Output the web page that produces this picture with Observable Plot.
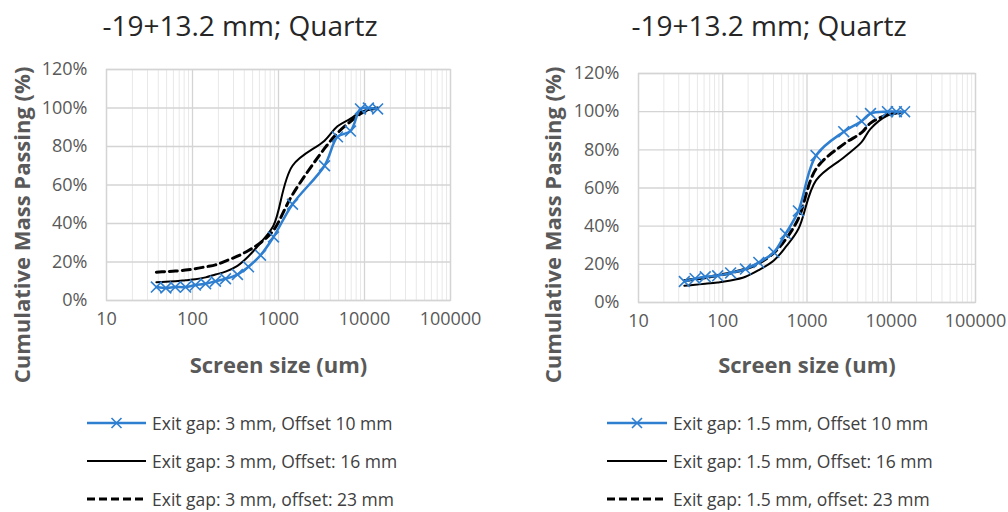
<!DOCTYPE html>
<html>
<head>
<meta charset="utf-8">
<script src="https://cdn.jsdelivr.net/npm/d3@7"></script>
<script src="https://cdn.jsdelivr.net/npm/@observablehq/plot@0.6"></script>
<style>
  body { margin: 0; background: #fff; }
  #root { position: relative; width: 1008px; height: 512px; overflow: hidden; font-family: "Open Sans", sans-serif; }
  .title { position: absolute; top: 6px; font-size: 28px; color: #262626; white-space: nowrap; transform: translateX(-50%); }
  .panel { position: absolute; top: 50px; }
  .panel svg text { fill: #595959; }
  .legend { position: absolute; top: 404px; font-size: 17.5px; color: #404040; }
  .legend .row { display: flex; align-items: center; height: 38px; white-space: nowrap; }
  .legend svg { margin-right: 6px; }
</style>
</head>
<body>
<div id="root"></div>
<script>
// Screen sizes (um) and cumulative mass passing (%) for -19+13.2 mm quartz feed.
// Panel A: exit gap 3 mm.
const sizesA = [38, 49, 63, 83, 108, 142, 185, 242, 333, 448, 618, 875, 1455, 3430, 4850, 6870, 8980, 11100, 14200];
const gap3Offset10 = [7, 6.5, 7, 7, 8, 8.7, 10, 11.3, 13.5, 17.5, 23.5, 33, 50, 70, 85, 88, 99.5, 100, 99.5];
const gap3Offset16 = [9.5, 9.8, 10, 10.5, 11, 12, 13.5, 15, 18, 23, 30, 39, 70, 83, 90.5, 94.5, 98, 99, 100];
const gap3Offset23 = [14.7, 15, 15.3, 15.8, 16.5, 17.5, 18.5, 20.5, 23, 26, 30, 36.5, 55, 79, 87, 93, 97, 99, 100];

// Panel B: exit gap 1.5 mm.
const sizesB = [35, 47, 62, 87, 124, 186, 268, 404, 556, 790, 1280, 2730, 4440, 5670, 9020, 11500, 14400];
const gap15Offset10 = [11, 12.5, 13.5, 14, 15.5, 17.5, 21, 26.3, 36, 48, 77, 89.5, 95, 99, 100, 100, 100];
const gap15Offset16 = [8.8, 9.3, 9.8, 10.5, 11.5, 13.5, 17, 22, 29, 38.5, 64, 76, 84, 91, 98, 99, 100];
const gap15Offset23 = [11.4, 12.3, 13, 14.2, 15.5, 17.5, 20.5, 26, 33, 44, 70, 83, 89, 94, 98.5, 99.5, 100];

// Axis ticks and text
const xTicks = [10, 100, 1000, 10000, 100000];
const yTicks = [0, 20, 40, 60, 80, 100, 120];
const panelTitle = "-19+13.2 mm; Quartz";
const xTitle = "Screen size (um)";
const yTitle = "Cumulative Mass Passing (%)";
const legendA = ["Exit gap: 3 mm, Offset 10 mm", "Exit gap: 3 mm, Offset: 16 mm", "Exit gap: 3 mm, offset: 23 mm"];
const legendB = ["Exit gap: 1.5 mm, Offset 10 mm", "Exit gap: 1.5 mm, Offset: 16 mm", "Exit gap: 1.5 mm, offset: 23 mm"];

const BLUE = "#2f7fd1";
const minorTicks = d3.scaleLog().domain([10, 100000]).ticks().filter(v => !xTicks.includes(v));

function rows(sizes, values) {
  return sizes.map((s, i) => ({size: s, pct: values[i]}));
}

function chart({sizes, s10, s16, s23, width, marginLeft, marginRight, marginTop, marginBottom, yTitleDx, yTitleDy, xTitleDy}) {
  const d10 = rows(sizes, s10), d16 = rows(sizes, s16), d23 = rows(sizes, s23);
  const titleStyle = {fontSize: 22, fontWeight: "bold", fill: "#595959", textAnchor: "middle"};
  return Plot.plot({
    width, height: 345,
    marginLeft, marginRight, marginTop, marginBottom,
    style: {fontFamily: "Open Sans, sans-serif", fontSize: "18px", background: "transparent", overflow: "visible"},
    x: {type: "log", domain: [10, 100000], ticks: xTicks, tickFormat: d3.format("d"), tickSize: 0, tickPadding: 12, label: null},
    y: {domain: [0, 120], ticks: yTicks, tickFormat: d => d + "%", tickSize: 0, tickPadding: 19, label: null},
    marks: [
      Plot.ruleX(minorTicks, {stroke: "#e8e8e8", strokeWidth: 1}),
      Plot.gridX(xTicks, {stroke: "#d4d4d4", strokeOpacity: 1, strokeWidth: 1.3}),
      Plot.gridY(yTicks, {stroke: "#d4d4d4", strokeOpacity: 1, strokeWidth: 1.3}),
      Plot.frame({stroke: "#d4d4d4", strokeWidth: 1.3}),
      Plot.line(d23, {x: "size", y: "pct", stroke: "#000", strokeWidth: 3, strokeDasharray: "8,5", curve: "catmull-rom"}),
      Plot.line(d16, {x: "size", y: "pct", stroke: "#000", strokeWidth: 2, curve: "catmull-rom"}),
      Plot.line(d10, {x: "size", y: "pct", stroke: BLUE, strokeWidth: 2.5, curve: "catmull-rom"}),
      Plot.dot(d10, {x: "size", y: "pct", symbol: "times", r: 5, stroke: BLUE, strokeWidth: 1.6}),
      // axis titles
      Plot.text([xTitle], {text: d => d, frameAnchor: "bottom", dy: xTitleDy, lineAnchor: "middle", ...titleStyle}),
      Plot.text([yTitle], {text: d => d, frameAnchor: "left", dx: yTitleDx, dy: yTitleDy, rotate: -90, lineAnchor: "middle", ...titleStyle})
    ]
  });
}

function legend(labels, left, sampleW) {
  const el = document.createElement("div");
  el.className = "legend";
  el.style.left = left + "px";
  const styles = [
    {stroke: BLUE, w: 2.5, dash: null, mark: true},
    {stroke: "#000", w: 2, dash: null},
    {stroke: "#000", w: 3, dash: "8,4"}
  ];
  labels.forEach((t, i) => {
    const s = styles[i];
    const row = document.createElement("div");
    row.className = "row";
    const m = sampleW / 2;
    row.innerHTML =
      `<svg width="${sampleW}" height="14"><line x1="0" x2="${sampleW}" y1="7" y2="7" stroke="${s.stroke}" stroke-width="${s.w}"${s.dash ? ` stroke-dasharray="${s.dash}"` : ""}/>` +
      (s.mark ? `<path d="M${m - 5},2L${m + 5},12M${m - 5},12L${m + 5},2" stroke="${s.stroke}" stroke-width="1.6"/>` : "") +
      `</svg><span>${t}</span>`;
    el.appendChild(row);
  });
  return el;
}

const root = document.getElementById("root");

function addTitle(cx) {
  const t = document.createElement("div");
  t.className = "title";
  t.style.left = cx + "px";
  t.textContent = panelTitle;
  root.appendChild(t);
}

const pA = document.createElement("div");
pA.className = "panel"; pA.style.left = "0px";
pA.appendChild(chart({sizes: sizesA, s10: gap3Offset10, s16: gap3Offset16, s23: gap3Offset23,
  width: 500, marginLeft: 106, marginRight: 50, marginTop: 19, marginBottom: 95,
  yTitleDx: -84, yTitleDy: 40, xTitleDy: 65}));
root.appendChild(pA);

const pB = document.createElement("div");
pB.className = "panel"; pB.style.left = "530px";
pB.appendChild(chart({sizes: sizesB, s10: gap15Offset10, s16: gap15Offset16, s23: gap15Offset23,
  width: 478, marginLeft: 108, marginRight: 33, marginTop: 23, marginBottom: 93,
  yTitleDx: -85, yTitleDy: 37, xTitleDy: 63}));
root.appendChild(pB);

addTitle(240);
addTitle(769);
root.appendChild(legend(legendA, 87, 59));
root.appendChild(legend(legendB, 607, 60));
</script>
</body>
</html>
